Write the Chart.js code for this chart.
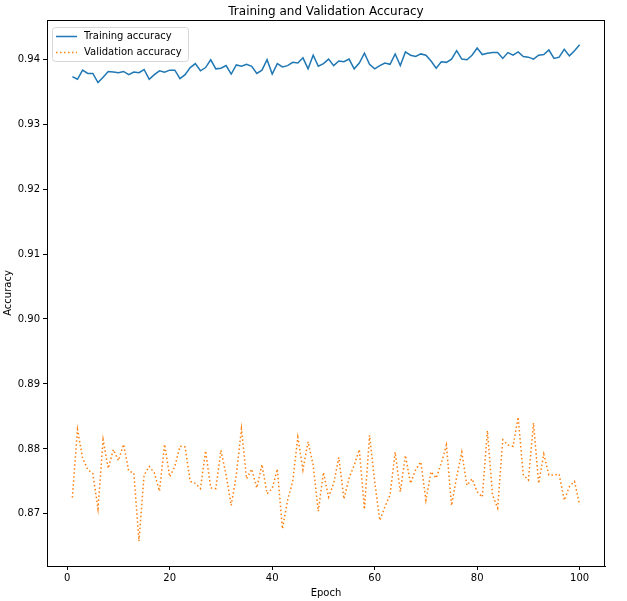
<!DOCTYPE html>
<html>
<head>
<meta charset="utf-8">
<script src="https://cdn.jsdelivr.net/npm/chart.js@4"></script>
<style>
  html, body { margin: 0; padding: 0; background: #fff; }
  #wrap { width: 627px; height: 601px; }
</style>
</head>
<body>
<div id="wrap"><canvas id="accChart" width="627" height="601"></canvas></div>
<script>
const chartTitle = 'Training and Validation Accuracy';
const epochs = Array.from({ length: 100 }, (_, i) => i + 1);

const trainAcc = [
    0.9373, 0.9369, 0.9383, 0.9378, 0.9378, 0.9364, 0.9372, 0.9381, 0.9380, 0.9379,
    0.9381, 0.9376, 0.9380, 0.9379, 0.9384, 0.9369, 0.9376, 0.9382, 0.9380, 0.9383,
    0.9383, 0.9370, 0.9376, 0.9387, 0.9393, 0.9382, 0.9387, 0.9399, 0.9385, 0.9386,
    0.9390, 0.9377, 0.9391, 0.9389, 0.9392, 0.9389, 0.9378, 0.9383, 0.9399, 0.9377,
    0.9393, 0.9388, 0.9390, 0.9395, 0.9394, 0.9402, 0.9385, 0.9406, 0.9389, 0.9393,
    0.9400, 0.9390, 0.9397, 0.9396, 0.9400, 0.9385, 0.9394, 0.9409, 0.9392, 0.9385,
    0.9390, 0.9394, 0.9392, 0.9408, 0.9390, 0.9411, 0.9406, 0.9404, 0.9408, 0.9406,
    0.9397, 0.9386, 0.9396, 0.9395, 0.9400, 0.9413, 0.9400, 0.9399, 0.9406, 0.9417,
    0.9407, 0.9409, 0.9410, 0.9410, 0.9401, 0.9410, 0.9406, 0.9411, 0.9404, 0.9403,
    0.9400, 0.9406, 0.9407, 0.9414, 0.9401, 0.9403, 0.9415, 0.9405, 0.9413, 0.9422
];

const valAcc = [
    0.8725, 0.8830, 0.8786, 0.8768, 0.8762, 0.8708, 0.8814, 0.8770, 0.8799, 0.8782,
    0.8807, 0.8766, 0.8763, 0.8658, 0.8760, 0.8773, 0.8763, 0.8735, 0.8807, 0.8757,
    0.8773, 0.8804, 0.8803, 0.8750, 0.8747, 0.8739, 0.8797, 0.8740, 0.8739, 0.8798,
    0.8760, 0.8713, 0.8760, 0.8831, 0.8754, 0.8769, 0.8740, 0.8776, 0.8731, 0.8739,
    0.8769, 0.8677, 0.8721, 0.8750, 0.8818, 0.8768, 0.8811, 0.8775, 0.8704, 0.8764,
    0.8726, 0.8747, 0.8787, 0.8723, 0.8755, 0.8775, 0.8799, 0.8707, 0.8821, 0.8750,
    0.8690, 0.8711, 0.8729, 0.8795, 0.8734, 0.8790, 0.8747, 0.8768, 0.8780, 0.8721,
    0.8765, 0.8755, 0.8778, 0.8806, 0.8713, 0.8757, 0.8795, 0.8744, 0.8754, 0.8734,
    0.8726, 0.8828, 0.8729, 0.8709, 0.8814, 0.8806, 0.8804, 0.8849, 0.8760, 0.8752,
    0.8840, 0.8747, 0.8792, 0.8760, 0.8760, 0.8761, 0.8721, 0.8742, 0.8750, 0.8714
];

const xTicks = [0, 20, 40, 60, 80, 100];
const yTicks = [0.87, 0.88, 0.89, 0.90, 0.91, 0.92, 0.93, 0.94];

const FONT = 'DejaVu Sans';
Chart.defaults.font.family = FONT;
Chart.defaults.font.size = 10;
Chart.defaults.color = '#000';

// axes frame, title and matplotlib-like legend drawn on top
const framePlugin = {
    id: 'frame',
    afterDraw(chart) {
        const { ctx, chartArea: a } = chart;
        ctx.save();
        ctx.strokeStyle = '#000';
        ctx.lineWidth = 1;
        ctx.strokeRect(a.left + 0.5, a.top + 0.5, a.right - a.left - 1, a.bottom - a.top);

        ctx.font = `12px "${FONT}"`;
        ctx.fillStyle = '#000';
        ctx.textAlign = 'center';
        ctx.textBaseline = 'middle';
        ctx.fillText(chartTitle, (a.left + a.right) / 2, 12);

        // legend
        const lx = a.left + 5, ly = a.top + 7, lw = 136, lh = 34;
        ctx.beginPath();
        ctx.roundRect(lx + 0.5, ly + 0.5, lw, lh, 3);
        ctx.fillStyle = 'rgba(255,255,255,0.8)';
        ctx.fill();
        ctx.strokeStyle = '#d6d6d6';
        ctx.lineWidth = 1;
        ctx.stroke();

        ctx.font = `10px "${FONT}"`;
        ctx.textAlign = 'left';
        chart.data.datasets.forEach((ds, i) => {
            const cy = ly + 9.5 + i * 16;
            ctx.beginPath();
            ctx.setLineDash(ds.borderDash || []);
            ctx.strokeStyle = ds.borderColor;
            ctx.lineWidth = ds.borderWidth;
            ctx.moveTo(lx + 4, cy);
            ctx.lineTo(lx + 25, cy);
            ctx.stroke();
            ctx.setLineDash([]);
            ctx.fillStyle = '#000';
            ctx.fillText(ds.label, lx + 32, cy);
        });
        ctx.restore();
    }
};

const ctx = document.getElementById('accChart').getContext('2d');
const accChart = new Chart(ctx, {
    type: 'line',
    data: {
        datasets: [
            {
                label: 'Training accuracy',
                data: epochs.map((e, i) => ({ x: e, y: trainAcc[i] })),
                borderColor: '#1f77b4',
                borderWidth: 1.5,
                pointRadius: 0,
                tension: 0
            },
            {
                label: 'Validation accuracy',
                data: epochs.map((e, i) => ({ x: e, y: valAcc[i] })),
                borderColor: '#ff7f0e',
                borderWidth: 1.5,
                borderDash: [1.5, 2.5],
                pointRadius: 0,
                tension: 0
            }
        ]
    },
    options: {
        responsive: false,
        animation: false,
        layout: { padding: { top: 20, right: 22, left: 0, bottom: 0 } },
        plugins: {
            legend: { display: false },
            title: { display: false },
            tooltip: { enabled: false }
        },
        scales: {
            x: {
                type: 'linear',
                min: -3.95,
                max: 104.95,
                afterBuildTicks: axis => { axis.ticks = xTicks.map(v => ({ value: v })); },
                afterFit: axis => { axis.height = 35; },
                ticks: { padding: 2, maxRotation: 0, callback: v => String(v) },
                grid: { drawOnChartArea: false, drawTicks: true, tickLength: 4, color: '#000' },
                border: { display: true, color: '#000' },
                title: { display: true, text: 'Epoch', padding: { top: 0, bottom: 2 } }
            },
            y: {
                type: 'linear',
                min: 0.86198,
                max: 0.94602,
                afterBuildTicks: axis => { axis.ticks = yTicks.map(v => ({ value: v })); },
                afterFit: axis => { axis.width = 47; },
                ticks: { padding: 3, callback: v => v.toFixed(2) },
                grid: { drawOnChartArea: false, drawTicks: true, tickLength: 4, color: '#000' },
                border: { display: true, color: '#000' },
                title: { display: true, text: 'Accuracy', padding: { top: 2, bottom: 0 } }
            }
        }
    },
    plugins: [framePlugin]
});
</script>
</body>
</html>
